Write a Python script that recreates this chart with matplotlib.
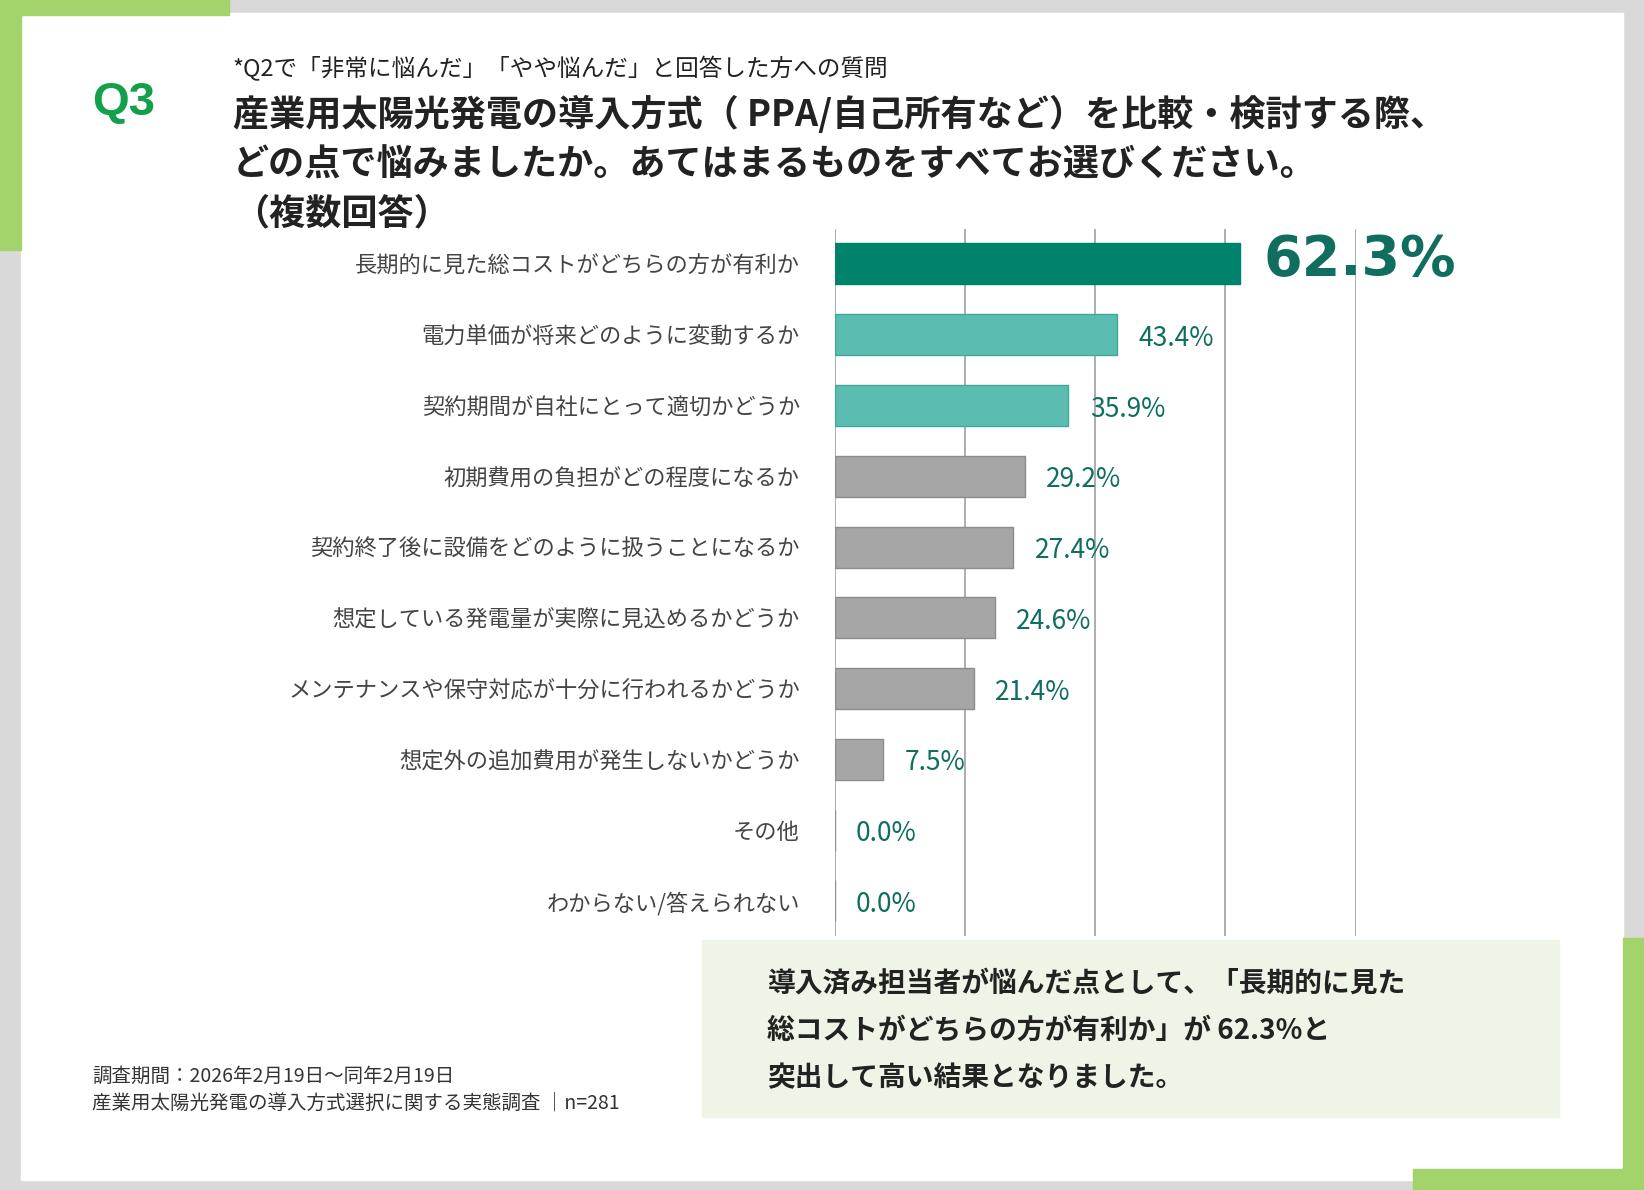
import matplotlib
matplotlib.use("Agg")
import matplotlib.pyplot as plt
from matplotlib.patches import Rectangle

plt.rcParams['font.family'] = ['Noto Sans CJK JP', 'DejaVu Sans']

# data
categories = [
    "長期的に見た総コストがどちらの方が有利か",
    "電力単価が将来どのように変動するか",
    "契約期間が自社にとって適切かどうか",
    "初期費用の負担がどの程度になるか",
    "契約終了後に設備をどのように扱うことになるか",
    "想定している発電量が実際に見込めるかどうか",
    "メンテナンスや保守対応が十分に行われるかどうか",
    "想定外の追加費用が発生しないかどうか",
    "その他",
    "わからない/答えられない",
]
values = [62.3, 43.4, 35.9, 29.2, 27.4, 24.6, 21.4, 7.5, 0.0, 0.0]
bar_colors = ["#00836d", "#5bbcb2", "#5bbcb2"] + ["#a6a6a6"] * 7

W, H = 1568, 1135
fig = plt.figure(figsize=(16.44, 11.90), dpi=100)
fig.patch.set_facecolor("#d9d9d9")

def px(x, y, w, h, color, z=0):
    fig.patches.append(Rectangle((x / W, 1 - (y + h) / H), w / W, h / H,
                                 transform=fig.transFigure, color=color, zorder=z))

green = "#a3d36b"
px(20, 12, 1528, 1113, "white")
px(0, 0, 218, 14, green)
px(0, 0, 20, 238, green)
px(1548, 895, 20, 240, green)
px(1348, 1115, 220, 20, green)
px(670, 897, 817, 168, "#eef5e6")

# header texts
fig.text(88 / W, 1 - 98 / H, "Q3", color="#12a04a", fontsize=34, fontweight="bold",
         va="center", family=["Liberation Sans", "DejaVu Sans"])
fig.text(222 / W, 1 - 65 / H, "*Q2で「非常に悩んだ」「やや悩んだ」と回答した方への質問",
         fontsize=17, va="center", color="#222222")
for i, line in enumerate(["産業用太陽光発電の導入方式（ PPA/自己所有など）を比較・検討する際、",
                          "どの点で悩みましたか。あてはまるものをすべてお選びください。",
                          "（複数回答）"]):
    fig.text(222 / W, 1 - (110 + 47 * i) / H, line, fontsize=26, fontweight="bold",
             va="center", color="#222222")

# chart
ax = fig.add_axes([796 / W, 1 - 893 / H, (1293 - 796) / W, (893 - 218) / H])
ax.set_zorder(5)
ax.patch.set_alpha(0)
y = list(range(len(categories)))
ax.barh(y, values, height=0.58, color=bar_colors,
        edgecolor=["#00836d", "#3fa89c", "#3fa89c"] + ["#8c8c8c"] * 7,
        linewidth=1, zorder=2)
ax.set_ylim(len(categories) - 0.5, -0.5)
ax.set_xlim(0, 80)
ax.set_xticks([0, 20, 40, 60, 80])
ax.xaxis.grid(True, color="#a0a0a0", linewidth=1.2, zorder=0)
ax.set_axisbelow(True)
ax.tick_params(length=0, labelbottom=False)
ax.set_yticks(y)
ax.set_yticklabels(categories, fontsize=16, color="#444444")
ax.tick_params(axis="y", pad=25)
for s in ax.spines.values():
    s.set_visible(False)
for i, v in enumerate(values):
    if i == 0:
        ax.text(v + 3.5, i - 0.05, f"{v:.1f}%", fontsize=40, fontweight="bold",
                color="#0f6e5e", va="center", family=["DejaVu Sans"])
    else:
        ax.text(v + 3.3, i + 0.05, f"{v:.1f}%", fontsize=19, color="#0f6e5e", va="center")

# summary
for i, line in enumerate(["導入済み担当者が悩んだ点として、「長期的に見た",
                          "総コストがどちらの方が有利か」が 62.3%と",
                          "突出して高い結果となりました。"]):
    fig.text(732 / W, 1 - (938 + 45 * i) / H, line, fontsize=20, fontweight="bold",
             va="center", color="#222222")

fig.text(88 / W, 1 - 1027 / H, "調査期間：2026年2月19日～同年2月19日", fontsize=14, va="center", color="#333333")
fig.text(88 / W, 1 - 1052 / H, "産業用太陽光発電の導入方式選択に関する実態調査 ｜n=281", fontsize=14, va="center", color="#333333")

fig.savefig("out.png", dpi=100, facecolor=fig.get_facecolor())
